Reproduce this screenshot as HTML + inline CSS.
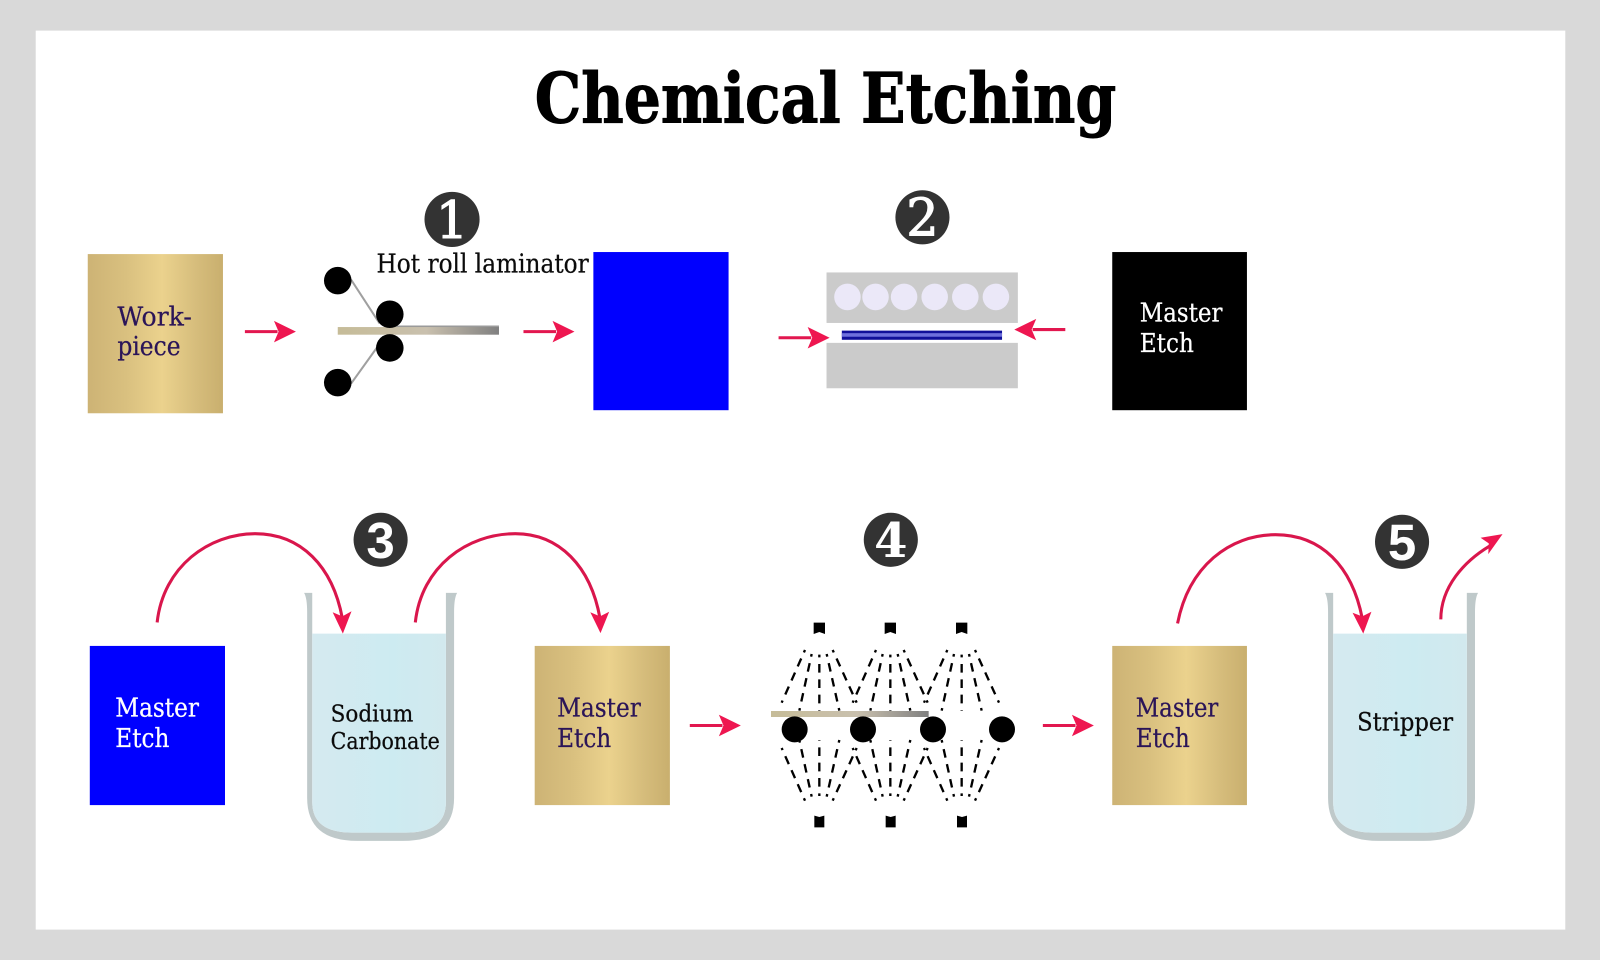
<!DOCTYPE html>
<html><head><meta charset="utf-8"><title>Chemical Etching</title>
<style>html,body{margin:0;padding:0;background:#fff}svg{display:block}
.t{font-family:"DejaVu Serif","Liberation Serif",serif}
.p{fill:#2b1558;stroke:#2b1558;stroke-width:.25}.w{fill:#fff;stroke:#fff;stroke-width:.25}.k{fill:#0b0b0b;stroke:#0b0b0b;stroke-width:.25}
.d{fill:#fff;stroke:#fff;stroke-width:1}</style></head>
<body>
<svg xmlns="http://www.w3.org/2000/svg" width="1600" height="960" viewBox="0 0 1568 940.8">
<defs>
<linearGradient id="g"><stop offset="0" stop-color="#cdb375"/><stop offset=".28" stop-color="#d9c07f"/><stop offset=".55" stop-color="#ebd28d"/><stop offset=".8" stop-color="#d6bd7c"/><stop offset="1" stop-color="#c9af6e"/></linearGradient>
<linearGradient id="bar"><stop offset="0" stop-color="#c6bc98"/><stop offset=".55" stop-color="#c9c0ae"/><stop offset="1" stop-color="#808080"/></linearGradient>
<linearGradient id="water"><stop offset="0" stop-color="#d5eaf0"/><stop offset=".6" stop-color="#cdebf1"/><stop offset="1" stop-color="#d2e9ee"/></linearGradient>
<g id="arr"><path d="M-1 0H31" stroke="#e2174f" stroke-width="3" fill="none"/><path d="M49 0L27.500 -10.500L32 0L27.500 10.500Z" fill="#ee1650"/></g>
<g id="beaker">
<path d="M298 581H306V786Q306 816 345 816H398Q437 816 437 786V581H448Q445 586 445 600V782Q445 824 395 824H350Q301 824 301 782V600Q301 586 298 581Z" fill="#bfc9ca"/>
<path d="M306 621H437V786Q437 816 398 816H345Q306 816 306 786Z" fill="url(#water)"/>
</g>
<g id="fan" fill="none" stroke="#000" stroke-width="7" stroke-dasharray="8 20 26 20 26 20 26 20 26 20">
<path d="M375 420L305 578M395 432L358 602M418 434V602M440 432L478 602M458 420L530 578"/>
</g>
<path id="nt" d="M-17 338H17V372L0 366L-17 372Z" fill="#000"/>
<path id="nb" d="M-15 917L0 921L15 917V952H-15Z" fill="#000"/>
</defs>

<rect width="1568" height="941" fill="#d9d9d9"/>
<rect x="35" y="30" width="1499" height="881" fill="#fff"/>

<text class="t" x="524" y="120" font-size="68" font-weight="700" fill="#000" stroke="#000" stroke-width="1" textLength="570" lengthAdjust="spacingAndGlyphs">Chemical Etching</text>

<!-- row 1 -->
<rect x="86" y="249" width="132.500" height="156" fill="url(#g)"/>
<text class="t p" x="115" y="319" font-size="26" textLength="73" lengthAdjust="spacingAndGlyphs">Work-</text>
<text class="t p" x="115" y="348" font-size="26" textLength="62" lengthAdjust="spacingAndGlyphs">piece</text>

<use href="#arr" x="241" y="325"/>

<path d="M344 274L372 317M344 376L372 337" stroke="#a0a0a0" stroke-width="2" fill="none"/>
<rect x="382" y="319" width="107" height="5" fill="#9a9a9a"/>
<rect x="331" y="320.500" width="158" height="7.500" fill="url(#bar)"/>
<circle cx="331" cy="275" r="13.500"/><circle cx="382" cy="308" r="13.500"/><circle cx="382" cy="341" r="13.500"/><circle cx="331" cy="375" r="13.500"/>

<circle cx="443" cy="215" r="27" fill="#333"/>
<text class="t d" x="443" y="233" font-size="50" text-anchor="middle">1</text>
<text class="t k" x="369" y="267" font-size="26" textLength="208" lengthAdjust="spacingAndGlyphs">Hot roll laminator</text>

<use href="#arr" x="514" y="325"/>
<rect x="581.500" y="247" width="132.500" height="155" fill="#00f"/>

<circle cx="904" cy="213" r="26.500" fill="#333"/>
<text class="t d" x="904" y="231" font-size="50" text-anchor="middle">2</text>

<rect x="810" y="267" width="187.500" height="49.500" fill="#cbcbcb"/>
<rect x="810" y="336" width="187.500" height="44.500" fill="#cbcbcb"/>
<g fill="#ebe8f8"><circle cx="830.500" cy="291" r="13"/><circle cx="858" cy="291" r="13"/><circle cx="886" cy="291" r="13"/><circle cx="916" cy="291" r="13"/><circle cx="946" cy="291" r="13"/><circle cx="976" cy="291" r="13"/></g>
<rect x="825" y="324" width="157" height="9" fill="#10109a"/>
<rect x="825" y="326.500" width="157" height="3.500" fill="#6e70dc"/>
<use href="#arr" x="764" y="331"/>
<use href="#arr" transform="translate(1043 323) scale(-1 1)"/>

<rect x="1090" y="247" width="132" height="155" fill="#000"/>
<text class="t w" x="1117" y="315" font-size="26" textLength="81" lengthAdjust="spacingAndGlyphs">Master</text>
<text class="t w" x="1117" y="345" font-size="26" textLength="53" lengthAdjust="spacingAndGlyphs">Etch</text>

<!-- row 2 -->
<rect x="88" y="633" width="132.500" height="156" fill="#00f"/>
<text class="t w" x="113" y="702" font-size="26" textLength="82" lengthAdjust="spacingAndGlyphs">Master</text>
<text class="t w" x="113" y="732" font-size="26" textLength="53" lengthAdjust="spacingAndGlyphs">Etch</text>

<use href="#beaker"/>
<text class="t k" x="324" y="707" font-size="23" textLength="81" lengthAdjust="spacingAndGlyphs">Sodium</text>
<text class="t k" x="324" y="734" font-size="23" textLength="107" lengthAdjust="spacingAndGlyphs">Carbonate</text>

<circle cx="373" cy="529" r="26.500" fill="#333"/>
<text x="373" y="547" font-size="50" font-weight="700" text-anchor="middle" fill="#fff" font-family="'Liberation Sans',sans-serif">3</text>

<g fill="none" stroke="#d9164c" stroke-width="3">
<path d="M154 610C160 555 205 523 250 523C295 523 326 555 335.500 606"/>
<path d="M407 610C413 555 458 523 505 523C548 523 579 555 588 606"/>
<path d="M1154 611C1165 555 1205 524 1250 524C1295 524 1325 555 1335 606"/>
<path d="M1412 607C1412 575 1435 550 1460 535"/>
</g>
<g fill="#ee1650">
<path d="M336 621L326 600L335.500 604L344.500 599Z"/>
<path d="M588.500 620.500L578.500 600L588 604L597 599.500Z"/>
<path d="M1336 621L1325.500 600.500L1335 604L1344 599.500Z"/>
<path d="M1472.500 523.500L1451 527L1459 532.500L1458.500 543Z"/>
</g>

<rect x="524" y="633" width="132.500" height="156" fill="url(#g)"/>
<text class="t p" x="546" y="702" font-size="26" textLength="82" lengthAdjust="spacingAndGlyphs">Master</text>
<text class="t p" x="546" y="732" font-size="26" textLength="53" lengthAdjust="spacingAndGlyphs">Etch</text>

<use href="#arr" x="677" y="711"/>

<circle cx="873" cy="529" r="26.500" fill="#333"/>
<text class="t" x="873" y="546" font-size="47" font-weight="700" fill="#fff" text-anchor="middle">4</text>

<!-- spray section, in zoom coordinates -->
<g transform="scale(.98) translate(680 510) scale(.33333)">
<use href="#fan"/><use href="#fan" x="213"/><use href="#fan" x="427"/>
<g transform="translate(0 1292) scale(1 -1)"><use href="#fan"/><use href="#fan" x="213"/><use href="#fan" x="427"/></g>
<use href="#nt" x="418"/><use href="#nt" x="631"/><use href="#nt" x="845"/>
<use href="#nb" x="418"/><use href="#nb" x="632"/><use href="#nb" x="846"/>
<rect x="273" y="603" width="473" height="18" fill="url(#bar)"/>
<circle cx="344" cy="658" r="39"/><circle cx="549" cy="658" r="39"/><circle cx="759" cy="658" r="39"/><circle cx="966" cy="658" r="39"/>
</g>

<use href="#arr" x="1023" y="711"/>

<rect x="1090" y="633" width="132" height="156" fill="url(#g)"/>
<text class="t p" x="1113" y="702" font-size="26" textLength="81" lengthAdjust="spacingAndGlyphs">Master</text>
<text class="t p" x="1113" y="732" font-size="26" textLength="53" lengthAdjust="spacingAndGlyphs">Etch</text>

<use href="#beaker" x="1000.500"/>
<text class="t k" x="1330" y="716" font-size="25" textLength="94" lengthAdjust="spacingAndGlyphs">Stripper</text>

<circle cx="1374" cy="531" r="26.500" fill="#333"/>
<text x="1374" y="549" font-size="50" font-weight="700" text-anchor="middle" fill="#fff" font-family="'Liberation Sans',sans-serif">5</text>
</svg>
</body></html>
